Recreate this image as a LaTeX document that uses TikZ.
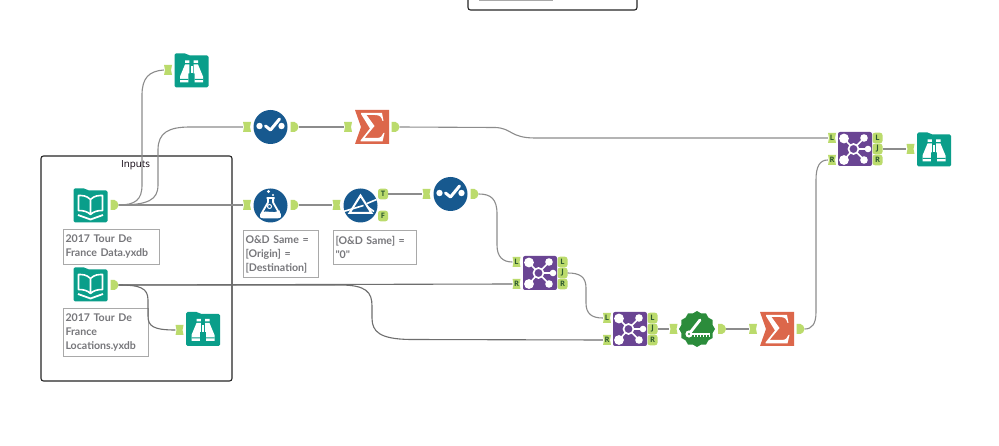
\documentclass[tikz,border=0pt]{standalone}
\usepackage{fontspec}
\setmainfont{Open Sans}
\newfontfamily\notefont{Lato}
\usetikzlibrary{shapes.geometric}
\definecolor{teal1}{HTML}{0A9E8A}
\definecolor{blue1}{HTML}{17598F}
\definecolor{orange1}{HTML}{DC674B}
\definecolor{purple1}{HTML}{6A4593}
\definecolor{green1}{HTML}{2B8C3B}
\definecolor{port1}{HTML}{BBDB6C}
\definecolor{line1}{HTML}{8C8C8C}
\definecolor{line2}{HTML}{6E6E6E}
\definecolor{annot}{HTML}{A9A9A9}
\definecolor{annottext}{HTML}{77777B}
\definecolor{porttext}{HTML}{2E5A30}
\tikzset{
  x=1pt,y=-1pt,
  anchorport/.style={inner sep=0pt,minimum width=8pt,minimum height=10pt,font=\fontsize{7.5}{8}\selectfont\bfseries,text=porttext},
  wideport/.style={anchorport,minimum width=10pt},
  conn/.style={draw=line1,line width=1.1pt},
  connd/.style={draw=line2,line width=1.1pt},
  circletool/.style={circle,fill=blue1,minimum size=34pt,inner sep=0pt},
  squaretool/.style={rectangle,fill=purple1,rounded corners=2pt,minimum size=34pt,inner sep=0pt},
  geartool/.style={star,star points=12,star point ratio=1.12,fill=green1,minimum size=36pt,inner sep=0pt},
  anchortool/.style={inner sep=0pt,minimum size=34pt},
  note/.style={draw=annot,line width=1pt,anchor=north west,inner sep=0pt,align=left,text=annottext,font=\notefont\fontsize{10.6}{14}\selectfont\bfseries},
  glyph/.style={white,line width=1.6pt},
  pics/folder/.style={code={
    \fill[teal1,rounded corners=1.5pt] (-17,-17) -- (-5,-17) -- (-3,-15) -- (17,-15) -- (17,17) -- (-17,17) -- cycle;}},
  pics/bookglyph/.style={code={
    \pic {folder};
    \draw[glyph,line join=round] (0,-6) .. controls (-4,-10) and (-8,-10) .. (-12,-10) -- (-12,5) .. controls (-7,5) and (-3,6) .. (0,9)
      .. controls (3,6) and (7,5) .. (12,5) -- (12,-10) .. controls (8,-10) and (4,-10) .. (0,-6) -- cycle (0,-6) -- (0,9);
    \draw[glyph,line width=1.8pt] (-12.5,9.5) -- (0,14) -- (12.5,9.5);}},
  pics/binoglyph/.style={code={
    \pic {folder};
    \fill[white] (-6.5,-10) rectangle (-2.2,-7.5) (2.2,-10) rectangle (6.5,-7.5);
    \fill[white] (-6.5,-6) -- (-2.2,-6) -- (-2.2,3) -- (-3.2,3) -- (-3.2,12) -- (-11.5,12) -- (-11.5,6) -- cycle;
    \fill[white] (6.5,-6) -- (2.2,-6) -- (2.2,3) -- (3.2,3) -- (3.2,12) -- (11.5,12) -- (11.5,6) -- cycle;
    \fill[teal1] (-11.5,8.5) rectangle (-3.2,9.5) (11.5,8.5) rectangle (3.2,9.5);
    \fill[white] (-1,-4) rectangle (1,3);}},
  pics/checkglyph/.style={code={
    \fill[white] (-11,-1) circle (3.2) (11,-1) circle (3.2);
    \draw[white,line width=3pt,line cap=round,line join=round] (-5,-1) -- (0,3) -- (9,-8);}},
  pics/flaskglyph/.style={code={
    \fill[white] (-2,-14) circle (1.6) (2.5,-10.5) circle (1.2);
    \draw[white,line width=1.8pt,line join=round] (-4,-7.5) -- (4,-7.5) (-2.6,-7.5) -- (-2.6,-3) -- (-9.5,9) .. controls (-10.5,11.5) and (-9,12) .. (-7,12) -- (7,12) .. controls (9,12) and (10.5,11.5) .. (9.5,9) -- (2.6,-3) -- (2.6,-7.5);
    \fill[white] (-9,7) .. controls (-4,4) and (3,9) .. (9,5) -- (10,10) .. controls (10,12) and (9,12) .. (7,12) -- (-7,12) .. controls (-10,12) and (-10,10) .. cycle;
    \draw[white,line width=1pt] (-1,1) circle (2);}},
  pics/prismglyph/.style={code={
    \draw[white,line width=2pt,line join=miter] (0,-10) -- (11,7.5) -- (-11,7.5) -- cycle;
    \draw[white,line width=1.6pt] (-17,6) -- (3,0) (6.5,-2) -- (16,-6) (6.5,1) -- (13.5,6);}},
  pics/sigmaglyph/.style={code={
    \fill[orange1] (-17,-17) -- (17,-17) -- (17,17) -- (-17,17) -- (-11,0) -- cycle;
    \fill[white] (-11,-14) -- (10,-14) -- (11.5,-6) -- (10.5,-6) .. controls (9.5,-10) and (8,-12) .. (3,-12) -- (-5.5,-12) -- (2.5,-1) -- (-7.5,11) -- (5,11) .. controls (8.5,11) and (10.5,9) .. (11.5,6) -- (12.5,6) -- (10.5,14.5) -- (-11.5,14.5) -- (-11.5,13.5) -- (-2,1.5) -- (-11,-13) -- cycle;}},
  pics/joinglyph/.style={code={
    \draw[white,line width=1.6pt] (-1.5,0) -- (-11,-10.5) (-1.5,0) -- (-11,11) (-1.5,0) -- (9,-11) (-1.5,0) -- (13,0) (-1.5,0) -- (9,11);
    \fill[purple1] (-1.5,0) circle (5);
    \draw[white,line width=1.7pt] (-1.5,0) circle (5);
    \fill[white] (-11,-10.5) circle (4.9) (-11,11) circle (4.9) (9,-11) circle (3.8) (9,11) circle (3.8) (13,0) circle (3.3);}},
  pics/ruleglyph/.style={code={
    \draw[white,line width=2.8pt,line cap=round] (-8,5) -- (3,-9);
    \draw[white,line width=2.6pt] (-8,5) -- (13,5);
    \foreach \q in {-3,0,...,12}{\draw[white,line width=.9pt] (\q,6) -- (\q,8);}
    \fill[white] (-8,5) circle (3.6);
    \fill[green1] (-8,5) circle (1.2);}}
}
\newcommand{\inportat}[4]{%
  \fill[port1] (#2-4,#3-5) -- (#2+4,#3-5) -- (#2+3,#3) -- (#2+4,#3+5) -- (#2-4,#3+5) -- (#2-3,#3) -- cycle;
  \node[anchorport] (#1) at (#2,#3) {#4};}
\newcommand{\outportat}[3]{%
  \fill[port1] (#2-4,#3-5) -- (#2,#3-5) .. controls (#2+2,#3-5) and (#2+4,#3-2) .. (#2+4,#3) .. controls (#2+4,#3+2) and (#2+2,#3+5) .. (#2,#3+5) -- (#2-4,#3+5) -- cycle;
  \node[anchorport] (#1) at (#2,#3) {};}
\newcommand{\wideportat}[4]{%
  \fill[port1,rounded corners=2.5pt] (#2-5,#3-5.3) -- (#2+5,#3-5.3) -- (#2+5,#3+5.3) -- (#2-5,#3+5.3) -- cycle;
  \node[wideport] (#1) at (#2,#3) {#4};}
\begin{document}
\begin{tikzpicture}
\useasboundingbox (0,0) rectangle (999,446);
\fill[white] (0,0) rectangle (999,446);

% containers
\node[draw=black!85,line width=1.1pt,rounded corners=2.5pt,minimum width=191pt,minimum height=225pt,inner sep=0pt] (inputsbox) at (136.5,268.5) {};
\node[font=\fontsize{9.8}{12}\selectfont,text=black!90!violet] (inputslabel) at (135.5,165) {Inputs};
\path[clip] (0,0) rectangle (999,446);
\node[draw=black!85,line width=1.1pt,rounded corners=2.5pt,minimum width=169pt,minimum height=30pt,inner sep=0pt] (topbox) at (552.5,-5) {};
\node[draw=annot,line width=1pt,minimum width=73pt,minimum height=12pt,inner sep=0pt] (topnote) at (515.5,-5) {};

% tools
\node[anchortool] (book1) at (90.5,205.5) {}; \pic at (book1) {bookglyph};
\node[anchortool] (book2) at (90.5,284.5) {}; \pic at (book2) {bookglyph};
\node[anchortool] (bino1) at (191.5,70.5) {}; \pic at (bino1) {binoglyph};
\node[anchortool] (bino2) at (203,329) {}; \pic at (bino2) {binoglyph};
\node[anchortool] (bino3) at (934,149.5) {}; \pic at (bino3) {binoglyph};
\node[circletool] (check1) at (270.5,127) {}; \pic at (check1) {checkglyph};
\node[circletool] (check2) at (450.5,194) {}; \pic at (check2) {checkglyph};
\node[circletool] (flask) at (270.5,205.5) {}; \pic at (flask) {flaskglyph};
\node[circletool] (prism) at (360.5,205.5) {}; \pic at (prism) {prismglyph};
\node[anchortool] (sum1) at (372,127) {}; \pic at (sum1) {sigmaglyph};
\node[anchortool] (sum2) at (777,329) {}; \pic at (sum2) {sigmaglyph};
\node[squaretool] (join1) at (540,273) {}; \pic at (join1) {joinglyph};
\node[squaretool] (join2) at (630,329) {}; \pic at (join2) {joinglyph};
\node[squaretool] (join3) at (855,149) {}; \pic at (join3) {joinglyph};
\node[geartool] (rule) at (697,329) {}; \pic at (rule) {ruleglyph};

% annotations
\node[note,minimum height=35pt,inner xsep=2pt,text width=92pt] (note1) at (63,229) {2017 Tour De\\France Data.yxdb};
\node[note,minimum height=48pt,inner xsep=2pt,text width=81pt] (note2) at (63,308) {2017 Tour De\\France\\Locations.yxdb};
\node[note,minimum height=47pt,inner xsep=2pt,text width=71pt] (note3) at (243,230) {O\&D Same =\\{}[Origin] =\\{}[Destination]};
\node[note,minimum height=34pt,inner xsep=2pt,text width=79pt] (note4) at (333,230) {[O\&D Same] =\\"0"};

% ports
\outportat{b1out}{114.5}{205}
\outportat{b2out}{114.5}{285}
\inportat{v1in}{168}{70}{}
\inportat{v2in}{179.5}{330}{}
\inportat{v3in}{910.5}{149}{}
\inportat{c1in}{247}{127}{}
\outportat{c1out}{294.5}{127}
\inportat{s1in}{348}{127}{}
\outportat{s1out}{395.5}{127}
\inportat{fin}{247}{205}{}
\outportat{fout}{294.5}{205}
\inportat{pin}{336.5}{205}{}
\wideportat{pT}{383}{194}{T}
\wideportat{pF}{383}{216}{F}
\inportat{c2in}{426.5}{194}{}
\outportat{c2out}{474.5}{194}
\inportat{j1L}{516.5}{262}{L}
\inportat{j1R}{516.5}{284}{R}
\wideportat{j1oL}{562.5}{262}{L}
\wideportat{j1oJ}{562.5}{273}{J}
\wideportat{j1oR}{562.5}{284}{R}
\inportat{j2L}{607}{318}{L}
\inportat{j2R}{607}{340}{R}
\wideportat{j2oL}{652.5}{318}{L}
\wideportat{j2oJ}{652.5}{329}{J}
\wideportat{j2oR}{652.5}{340}{R}
\inportat{rin}{673.5}{329}{}
\outportat{rout}{722}{329}
\inportat{s2in}{753}{329}{}
\outportat{s2out}{800.5}{329}
\inportat{j3L}{832}{138}{L}
\inportat{j3R}{832}{160}{R}
\wideportat{j3oL}{877.5}{138}{L}
\wideportat{j3oJ}{877.5}{149}{J}
\wideportat{j3oR}{877.5}{160}{R}

% connectors
\draw[conn] (b1out.east) .. controls (135,205) and (142,200) .. (142,185) -- (142,95) .. controls (142,78) and (149,71) .. (v1in.west);
\draw[conn] (b1out.east) .. controls (148,205) and (158,200) .. (158,185) -- (158,150) .. controls (158,133) and (168,127) .. (190,127) -- (c1in.west);
\draw[conn] (b1out.east) -- (fin.west);
\draw[conn] (c1out.east) -- (s1in.west);
\draw[conn] (fout.east) -- (pin.west);
\draw[conn] (pT.east) -- (c2in.west);
\draw[conn] (c2out.east) .. controls (491,194) and (497,199) .. (497,214) -- (497,245) .. controls (497,257) and (503,262) .. (j1L.west);
\draw[conn] (s1out.east) -- (495,127.5) .. controls (512,128) and (510,138) .. (535,138) -- (j3L.west);
\draw[connd] (b2out.east) -- (j1R.west);
\draw[connd] (b2out.east) -- (340,285) .. controls (366,285) and (372,292) .. (372,306) -- (372,318) .. controls (372,332) and (380,339) .. (410,339.5) -- (j2R.west);
\draw[connd] (b2out.east) .. controls (140,285) and (148,288) .. (148,300) -- (148,316) .. controls (148,326) and (153,330) .. (v2in.west);
\draw[conn] (j1oJ.east) .. controls (580,273) and (586,277) .. (586,288) -- (586,303) .. controls (586,314) and (592,318) .. (j2L.west);
\draw[conn] (j2oJ.east) -- (rin.west);
\draw[conn] (rout.east) -- (s2in.west);
\draw[conn] (s2out.east) .. controls (812,329) and (816,324) .. (816,312) -- (816,180) .. controls (816,166) and (820,160) .. (j3R.west);
\draw[conn] (j3oJ.east) -- (v3in.west);
\end{tikzpicture}
\end{document}
